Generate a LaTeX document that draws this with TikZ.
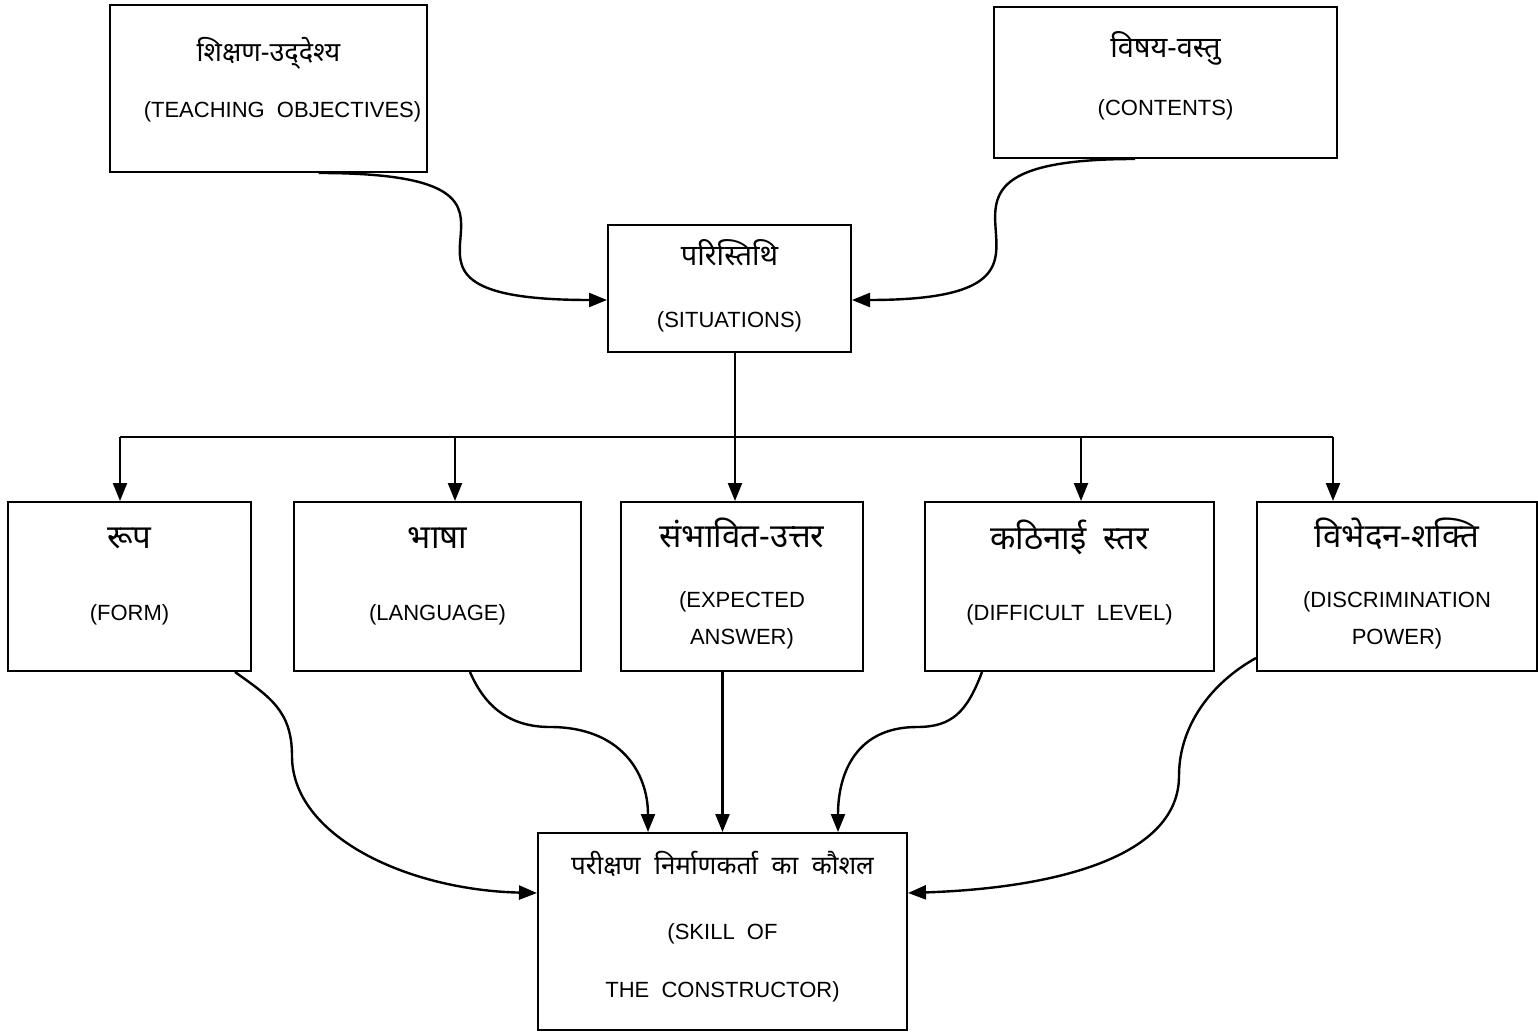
\documentclass[tikz,border=0pt]{standalone}
\usepackage{fontspec}
\setmainfont{Liberation Sans}
\newfontfamily\hindi[Script=Devanagari]{Noto Sans}
\usetikzlibrary{arrows.meta,calc}
\newcommand{\hn}[2][16.5]{{\hindi\fontsize{#1}{#1}\selectfont #2}}
\newcommand{\lift}[2]{\raisebox{0pt}[\height][\dimexpr\depth+#1pt\relax]{#2}}

\begin{document}
\begin{tikzpicture}[x=0.5pt,y=-0.5pt,
    box/.style={shape=rectangle,draw=black,line width=1pt,align=center,inner sep=0pt,
      font=\fontsize{11}{16}\selectfont},
    link/.style={line width=1.2pt,-{Triangle[length=9pt,width=7pt]}}]
\useasboundingbox (0,0) rectangle (1538,1032);

  \node[box,minimum width=158.5pt,minimum height=83.5pt] (obj) at (268.5,88.5)
    {\hn[13.5]{शिक्षण-उद्‌देश्य}\\[11.9pt]\hspace*{14pt}\lift{9}{(TEACHING~~OBJECTIVES)}};
  \node[box,minimum width=171.5pt,minimum height=75.5pt] (cont) at (1165.5,82.5)
    {\hn[14.5]{विषय-वस्तु}\\[13pt]\lift{7}{(CONTENTS)}};
  \node[box,minimum width=121.5pt,minimum height=63.5pt] (sit) at (729.5,288.5)
    {\hn[14.5]{परिस्तिथि}\\[15pt]\lift{3}{(SITUATIONS)}};

  \node[box,minimum width=121.5pt,minimum height=84.5pt] (form) at (129.5,586.5)
    {\hn{रूप}\\[19.7pt]\lift{10}{(FORM)}};
  \node[box,minimum width=143.5pt,minimum height=84.5pt] (lang) at (437.5,586.5)
    {\hn{भाषा}\\[19.7pt]\lift{10}{(LANGUAGE)}};
  \node[box,minimum width=121pt,minimum height=84.5pt] (exp) at (742,586.5)
    {\hn{संभावित-उत्तर}\\[13.7pt](EXPECTED\\[2.5pt]\lift{3}{ANSWER)}};
  \node[box,minimum width=144.5pt,minimum height=84.5pt] (diff) at (1069.5,586.5)
    {\hn{कठिनाई~~स्तर}\\[19.7pt]\lift{14}{(DIFFICULT~~LEVEL)}};
  \node[box,minimum width=140pt,minimum height=84.5pt] (disc) at (1397,586.5)
    {\hn{विभेदन-शक्ति}\\[13.7pt](DISCRIMINATION\\[2.5pt]\lift{3}{POWER)}};

  \node[box,minimum width=184.5pt,minimum height=98.5pt] (skill) at (722.5,931.5)
    {\hn[13]{परीक्षण~~निर्माणकर्ता~~का~~कौशल}\\[16.6pt](SKILL~~OF\\[13pt]\lift{4.5}{THE~~CONSTRUCTOR)}};

  \draw[link] ($(obj.south)+(50,0)$) .. controls +(290,0) and +(-290,0) .. ($(sit.west)+(0,11.5)$);
  \draw[link] ($(cont.south)+(-30.5,0)$) .. controls +(-284,0) and +(284,0) .. ($(sit.east)+(0,11.5)$);

  \coordinate (b0) at ($(sit.south)+(5.5,0)$);
  \coordinate (b1) at (120,437);
  \coordinate (b2) at (455,437);
  \coordinate (b3) at (1081,437);
  \coordinate (b4) at (1333,437);
  \draw[line width=1.2pt] (b1) -- (b4);
  \path [link] (b0) edge (b0 |- exp.north);
  \path [link] (b1) edge (b1 |- form.north);
  \path [link] (b2) edge (b2 |- lang.north);
  \path [link] (b3) edge (b3 |- diff.north);
  \path [link] (b4) edge (b4 |- disc.north);

  \draw[link] ($(form.south)+(105.5,0)$) .. controls +(35,25) and +(0,-45) .. ++(57,84)
    .. controls +(0,80) and +(-130,-3) .. ($(skill.west)+(0,-38.5)$);
  \draw[link] ($(lang.south)+(32.5,0)$) .. controls +(15,35) and +(-40,0) .. ++(80,55)
    .. controls +(70,0) and +(0,-60) .. ($(skill.north)+(-74.5,0)$);
  \path [link] (exp.south -| skill.north) edge (skill.north);
  \draw[link] ($(diff.south)+(-87.5,0)$) .. controls +(-15,40) and +(35,0) .. ++(-65,55)
    .. controls +(-60,0) and +(0,-60) .. ($(skill.north)+(115.5,0)$);
  \draw[link] ($(disc.south west)+(0,-14)$) .. controls +(-45,25) and +(0,-50) .. ++(-77,118)
    .. controls +(0,80) and +(150,-5) .. ($(skill.east)+(0,-38.5)$);
\end{tikzpicture}
\end{document}
